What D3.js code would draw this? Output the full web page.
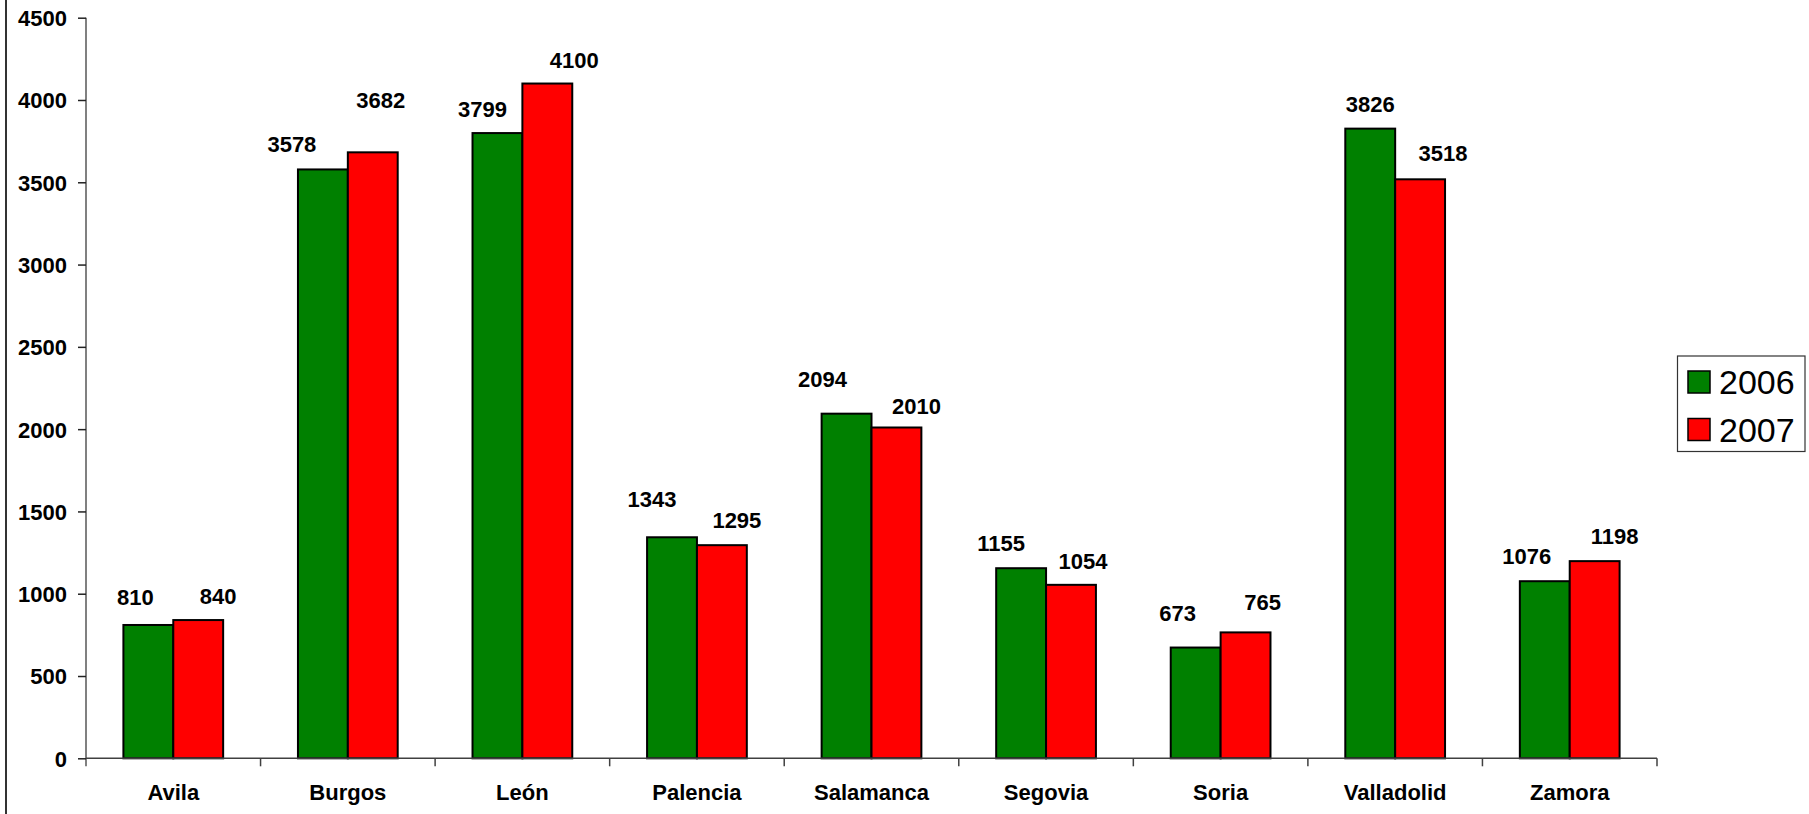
<!DOCTYPE html>
<html>
<head>
<meta charset="utf-8">
<script src="https://cdn.jsdelivr.net/npm/d3@7"></script>
<style>
  html, body { margin: 0; padding: 0; background: #fff; }
  svg { display: block; font-family: "Liberation Sans", Arial, sans-serif; }
</style>
</head>
<body>
<svg id="chart" width="1809" height="814"></svg>
<script>
// data
var provinces = ["Avila", "Burgos", "León", "Palencia", "Salamanca", "Segovia", "Soria", "Valladolid", "Zamora"];
var years = ["2006", "2007"];
var values2006 = [810, 3578, 3799, 1343, 2094, 1155, 673, 3826, 1076];
var values2007 = [840, 3682, 4100, 1295, 2010, 1054, 765, 3518, 1198];
var yTicks = [0, 500, 1000, 1500, 2000, 2500, 3000, 3500, 4000, 4500];

// label placement, the labels were dragged around by hand in the original
var nudgeX = {"2006": [-13, -31, -15, -20, -24, -20, -18, 0, -18],
              "2007": [20, 8, 27, 15, 20, 12, 17, 23, 20]};
var nudgeY = {"2006": [20, 17, 16, 30, 27, 17, 27, 17, 17],
              "2007": [16, 44, 16, 17, 13, 16, 22, 18, 17]};

var colors = {"2006": "#008000", "2007": "#ff0000"};

var svg = d3.select("#chart");

// plot box (window.top is taken, so no bare "top" here)
var plotLeft = 86, plotRight = 1657, plotTop = 17.7, plotBottom = 758.3;

var x0 = d3.scaleBand().domain(provinces).range([plotLeft, plotRight]).padding(0);
var x1 = d3.scaleBand().domain(years).range([0, x0.bandwidth()])
    .paddingInner(0).paddingOuter(0.75);
var y = d3.scaleLinear().domain([0, 4500]).range([plotBottom, plotTop]);

// outer frame edge on the left
svg.append("line")
    .attr("x1", 6).attr("x2", 6).attr("y1", 0).attr("y2", 814)
    .attr("stroke", "#333").attr("stroke-width", 2);

var rows = provinces.map(function(p, i) {
  return {name: p, i: i, vals: [
    {year: "2006", v: values2006[i]},
    {year: "2007", v: values2007[i]}
  ]};
});

// bars
var groups = svg.append("g").selectAll("g")
    .data(rows)
    .enter().append("g")
      .attr("transform", function(d) { return "translate(" + x0(d.name) + ",0)"; });

groups.selectAll("rect")
    .data(function(d) { return d.vals; })
    .enter().append("rect")
      .attr("x", function(d) { return x1(d.year); })
      .attr("y", function(d) { return y(d.v); })
      .attr("width", x1.bandwidth())
      .attr("height", function(d) { return y(0) - y(d.v); })
      .attr("fill", function(d) { return colors[d.year]; })
      .attr("stroke", "#000")
      .attr("stroke-width", 2);

groups.selectAll("text")
    .data(function(d) { return d.vals.map(function(v) { return {year: v.year, v: v.v, i: d.i}; }); })
    .enter().append("text")
      .attr("x", function(d) { return x1(d.year) + x1.bandwidth() / 2 + nudgeX[d.year][d.i]; })
      .attr("y", function(d) { return y(d.v) - nudgeY[d.year][d.i]; })
      .attr("text-anchor", "middle")
      .attr("font-size", 22)
      .attr("font-weight", "bold")
      .text(function(d) { return d.v; });

// y axis
var yAxis = svg.append("g")
    .attr("transform", "translate(" + plotLeft + ",0)")
    .call(d3.axisLeft(y).tickValues(yTicks).tickSize(8).tickPadding(11).tickFormat(d3.format("d")));
yAxis.select(".domain").attr("stroke", "#808080").attr("stroke-width", 2)
    .attr("d", "M0," + plotTop + "V" + (plotBottom + 8));
yAxis.selectAll(".tick line").attr("stroke", "#222").attr("stroke-width", 1.5);
yAxis.selectAll(".tick text")
    .attr("font-size", 22).attr("font-weight", "bold").attr("fill", "#000")
    .attr("font-family", "Liberation Sans, Arial, sans-serif")
    .attr("dy", "0.36em");

// x axis, ticks sit between the categories
var bounds = provinces.map(function(p) { return x0(p); }).concat([plotRight]);
var xAxis = svg.append("g");
xAxis.append("line")
    .attr("x1", plotLeft).attr("x2", plotRight).attr("y1", plotBottom).attr("y2", plotBottom)
    .attr("stroke", "#404040").attr("stroke-width", 1.5);
xAxis.selectAll(".xtick")
    .data(bounds.slice(1))
    .enter().append("line")
      .attr("x1", function(d) { return d; }).attr("x2", function(d) { return d; })
      .attr("y1", plotBottom).attr("y2", plotBottom + 8)
      .attr("stroke", "#404040").attr("stroke-width", 1.5);
xAxis.selectAll(".xlab")
    .data(provinces)
    .enter().append("text")
      .attr("x", function(d) { return x0(d) + x0.bandwidth() / 2; })
      .attr("y", 800)
      .attr("text-anchor", "middle")
      .attr("font-size", 22)
      .attr("font-weight", "bold")
      .text(function(d) { return d; });

// legend
var legend = svg.append("g");
legend.append("rect")
    .attr("x", 1677.5).attr("y", 356).attr("width", 127.5).attr("height", 95.5)
    .attr("fill", "#fff").attr("stroke", "#333").attr("stroke-width", 1.2);
var items = legend.selectAll(".item")
    .data(years)
    .enter().append("g")
      .attr("transform", function(d, i) { return "translate(1688," + (371 + i * 47.5) + ")"; });
items.append("rect")
    .attr("width", 22).attr("height", 22)
    .attr("fill", function(d) { return colors[d]; })
    .attr("stroke", "#000").attr("stroke-width", 1.5);
items.append("text")
    .attr("x", 31).attr("y", 23)
    .attr("font-size", 34)
    .text(function(d) { return d; });
</script>
</body>
</html>
